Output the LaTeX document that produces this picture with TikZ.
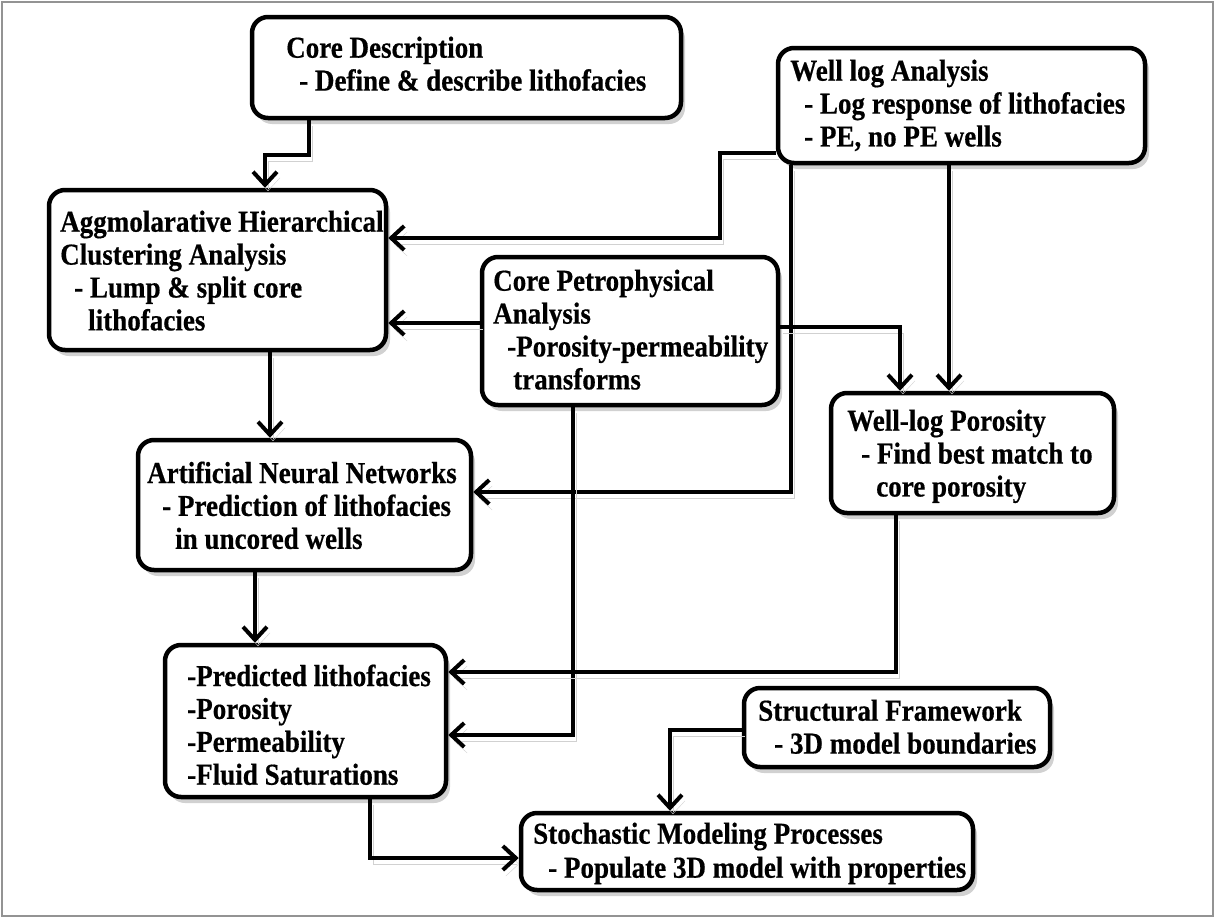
\documentclass[tikz,border=0pt]{standalone}
\usepackage{fontspec}
\setmainfont{Liberation Serif}[FakeStretch=0.89, BoldFeatures={FakeBold=0.5}]
\usetikzlibrary{arrows.meta,fit,shadows,calc}
\begin{document}
\begin{tikzpicture}[x=1pt,y=-1pt,
  box/.style={draw=black, line width=4.5pt, rounded corners=16pt, fill=white, inner sep=0pt,
    drop shadow={shadow xshift=4pt, shadow yshift=-6pt, opacity=0.18, fill=black}},
  txt/.style={anchor=north west, inner sep=0pt, align=left, font=\fontsize{30.4}{32.9}\selectfont\bfseries},
  arr/.style={line width=4pt, -{Straight Barb[length=13pt,width=24pt]},
    preaction={draw=black!18, transform canvas={shift={(3,6)}}}},
]
\useasboundingbox (0,0) rectangle (1215,918);
\fill[white] (0,0) rectangle (1215,918);
\draw[gray!85, line width=2pt] (2,2) rectangle (1213,916);

% boxes
\node[box, fit={(252,17) (681,118)}] (cd) {};
\node[box, fit={(778,48) (1145,163)}] (wl) {};
\node[box, fit={(49,190) (386,350)}] (agg) {};
\node[box, fit={(482,257) (778,405)}] (cp) {};
\node[box, fit={(831,393) (1114,513)}] (wlp) {};
\node[box, fit={(138,440) (471,570)}] (ann) {};
\node[box, fit={(165,645) (446,797)}] (pred) {};
\node[box, fit={(744,688) (1050,767)}] (sf) {};
\node[box, fit={(521,813) (973,890)}] (sm) {};

% texts
\node[txt] (cd-t) at (286,36.4) {Core Description\\\hspace*{13pt}- Define \& describe lithofacies};
\node[txt] (wl-t) at (790,59.4) {Well log Analysis\\\hspace*{14pt}- Log response of lithofacies\\\hspace*{14pt}- PE, no PE wells};
\node[txt] (agg-t) at (60,210.4) {Aggmolarative Hierarchical\\Clustering Analysis\\\hspace*{14pt}- Lump \& split core\\\hspace*{28pt}lithofacies};
\node[txt] (cp-t) at (493,269.4) {Core Petrophysical\\Analysis\\\hspace*{14pt}-Porosity-permeability\\\hspace*{20pt}transforms};
\node[txt] (wlp-t) at (847,409.4) {Well-log Porosity\\\hspace*{14pt}- Find best match to\\\hspace*{29pt}core porosity};
\node[txt] (ann-t) at (147,461.4) {Artificial Neural Networks\\\hspace*{15pt}- Prediction of lithofacies\\\hspace*{28pt}in uncored wells};
\node[txt] (pred-t) at (187,664.4) {-Predicted lithofacies\\-Porosity\\-Permeability\\-Fluid Saturations};
\node[txt] (sf-t) at (758,699.4) {Structural Framework\\\hspace*{16pt}- 3D model boundaries};
\node[txt, font=\fontsize{30.4}{34}\selectfont\bfseries] (sm-t) at (533,822.4) {Stochastic Modeling Processes\\\hspace*{15pt}- Populate 3D model with properties};

% helper coordinates
\coordinate (j1) at (265,155);
\coordinate (x309) at (309,0);
\coordinate (wA) at (720,153);
\coordinate (wB) at (720,238);
\coordinate (wC) at (791,492);
\coordinate (x949) at (949,0);
\coordinate (y323) at (0,323);
\coordinate (cA) at (900,327);
\coordinate (cB) at (573,735);
\coordinate (x270) at (270,0);
\coordinate (x255) at (255,0);
\coordinate (pA) at (896,672);
\coordinate (sA) at (670,730);
\coordinate (dA) at (370,858);

% connectors
\draw[arr] (cd.south -| x309) |- (j1) -- (agg.north -| j1);
\draw[arr] (wl.west |- wA) -- (wA) -- (wB) -- (agg.east |- wB);
\draw[arr] (wl.south -| wC) -- (wC) -- (ann.east |- wC);
\draw[arr] (wl.south -| x949) -- (wlp.north -| x949);
\draw[arr] (cp.west |- y323) -- (agg.east |- y323);
\draw[arr] (cp.east |- cA) -- (cA) -- (wlp.north -| cA);
\draw[arr] (cp.south -| cB) -- (cB) -- (pred.east |- cB);
\draw[arr] (agg.south -| x270) -- (ann.north -| x270);
\draw[arr] (ann.south -| x255) -- (pred.north -| x255);
\draw[arr] (wlp.south -| pA) -- (pA) -- (pred.east |- pA);
\draw[arr] (sf.west |- sA) -- (sA) -- (sm.north -| sA);
\draw[arr] (pred.south -| dA) -- (dA) -- (sm.west |- dA);
\end{tikzpicture}
\end{document}
